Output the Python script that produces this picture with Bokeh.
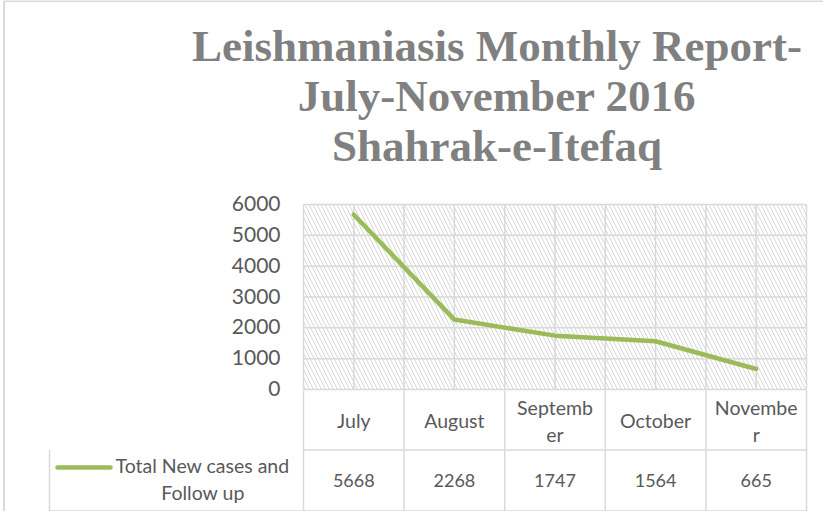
from bokeh.plotting import figure
from bokeh.embed import file_html
from bokeh.resources import INLINE
from bokeh.core.properties import value
from bokeh.models import Range1d

# ---- data ----
months = ["July", "August", "September", "October", "November"]
cases = [5668, 2268, 1747, 1564, 665]
series_name = ["Total New cases and", "Follow up"]
y_ticks = [0, 1000, 2000, 3000, 4000, 5000, 6000]
title_lines = ["Leishmaniasis Monthly Report-", "July-November 2016", "Shahrak-e-Itefaq"]

# ---- layout (pixels within the canvas) ----
W, H = 823, 511
PL, PR, PT, PB = 303, 806, 204, 389
N = len(months)
YMAX = y_ticks[-1]
xpp = N / (PR - PL)
vpp = YMAX / (PB - PT)


def X(px):
    return (px - PL) * xpp


def Y(py):
    return (PB - py) * vpp


GRID = "#d9d9d9"
TXT = "#595959"
GREEN = "#9bbb59"
SANS = value("Lato")

p = figure(width=W, height=H, output_backend="svg", toolbar_location=None,
           min_border=0, x_range=Range1d(X(0), X(W)), y_range=Range1d(Y(H), Y(0)))
p.axis.visible = False
p.grid.visible = False
p.outline_line_color = None
p.background_fill_color = "white"
p.border_fill_color = "white"

# plot area hatch
p.quad(left=[0], right=[N], bottom=[0], top=[YMAX], fill_color="white",
       line_color=None, hatch_pattern="\\", hatch_color="#d6d6d6",
       hatch_weight=1, hatch_scale=8)

# gridlines
p.segment(x0=[0] * len(y_ticks), x1=[N] * len(y_ticks), y0=y_ticks, y1=y_ticks,
          line_color=GRID, line_width=1.5)
vx = [i * 0.5 for i in range(2 * N + 1)]
p.segment(x0=vx, x1=vx, y0=[0] * len(vx), y1=[YMAX] * len(vx),
          line_color=GRID, line_width=1.5)

# y tick labels
p.text(x=[X(280)] * len(y_ticks), y=y_ticks, text=[str(t) for t in y_ticks],
       text_align="right", text_baseline="middle", text_font=SANS,
       text_font_size="21px", text_color=TXT, y_offset=-1)

# data line
xs = [i + 0.5 for i in range(N)]
p.line(x=xs, y=cases, line_color=GREEN, line_width=4.5, line_join="round",
       line_cap="round")

# data table
row1_top, row1_bot, row2_bot = PB + 1, 449.5, 510.5
leg_left = 49
p.segment(x0=[0, X(leg_left)], x1=[N, N], y0=[Y(row1_bot), Y(row2_bot)],
          y1=[Y(row1_bot), Y(row2_bot)], line_color=GRID, line_width=1.5)
cx = [float(i) for i in range(N + 1)]
p.segment(x0=cx, x1=cx, y0=[Y(row1_top)] * len(cx), y1=[Y(row2_bot)] * len(cx),
          line_color=GRID, line_width=1.5)
p.segment(x0=[X(leg_left)], x1=[X(leg_left)], y0=[Y(row1_bot)], y1=[Y(row2_bot)],
          line_color=GRID, line_width=1.5)

# header labels, wrapped like the reference (7 characters per line)
WRAP = 7
hx, hy, ht = [], [], []
row1_mid = (row1_top + row1_bot) / 2
for i, m in enumerate(months):
    parts = [m[k:k + WRAP] for k in range(0, len(m), WRAP)]
    if len(parts) == 1:
        offs = [0]
    else:
        offs = [-13, 14]
    for part, o in zip(parts, offs):
        hx.append(xs[i])
        hy.append(Y(row1_mid + o))
        ht.append(part)
p.text(x=hx, y=hy, text=ht, text_align="center", text_baseline="middle",
       text_font=SANS, text_font_size="19.5px", text_color=TXT)

p.text(x=xs, y=[Y((row1_bot + row2_bot) / 2)] * N, text=[str(v) for v in cases],
       text_align="center", text_baseline="middle", text_font=SANS,
       text_font_size="18px", text_color=TXT)

# legend key in table
p.segment(x0=[X(57)], x1=[X(110)], y0=[Y(467)], y1=[Y(467)], line_color=GREEN,
          line_width=4.5, line_cap="round")
p.text(x=[X(115)], y=[Y(465)], text=[series_name[0]], text_align="left",
       text_baseline="middle", text_font=SANS, text_font_size="19.5px", text_color=TXT)
p.text(x=[X(202.5)], y=[Y(492)], text=[series_name[1]], text_align="center",
       text_baseline="middle", text_font=SANS, text_font_size="19.5px", text_color=TXT)

# title
p.text(x=[X(496.5)] * 3, y=[Y(45), Y(95), Y(145)], text=title_lines,
       text_align="center", text_baseline="alphabetic",
       text_font=value("Liberation Serif"), text_font_style="bold",
       text_font_size="45px", text_color="#808080")

# chart border
p.segment(x0=[X(3.5), X(3.5)], x1=[X(W), X(3.5)], y0=[Y(0.5), Y(0.5)],
          y1=[Y(0.5), Y(H)], line_color=GRID, line_width=2)

open("out.html", "w").write(file_html(p, INLINE))
